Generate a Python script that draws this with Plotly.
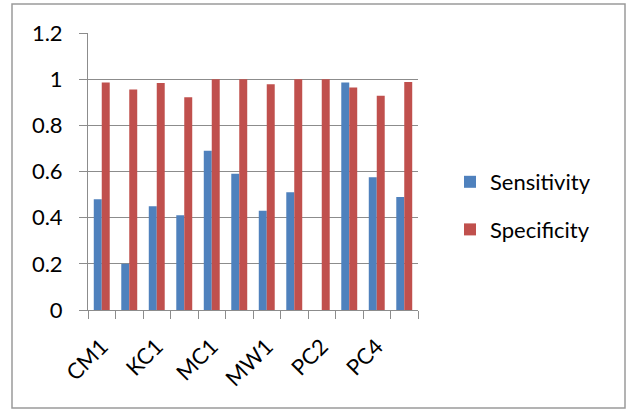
import plotly.graph_objects as go

# Datasets on the category axis
datasets = ["CM1", "JM1", "KC1", "KC3", "MC1", "MC2",
            "MW1", "PC1", "PC2", "PC3", "PC4", "PC5"]
# Only every other dataset name is printed under the axis
shown_labels = [d if i % 2 == 0 else "" for i, d in enumerate(datasets)]

sensitivity = [0.48, 0.20, 0.45, 0.41, 0.69, 0.59,
               0.43, 0.51, 0.0, 0.986, 0.575, 0.49]
specificity = [0.986, 0.955, 0.983, 0.922, 1.0, 1.0,
               0.978, 1.0, 1.0, 0.964, 0.928, 0.988]

y_ticks = [0, 0.2, 0.4, 0.6, 0.8, 1, 1.2]
y_tick_text = ["0", "0.2", "0.4", "0.6", "0.8", "1", "1.2"]

BLUE = "#4F81BD"
RED = "#C0504D"
GRID = "#8C8C8C"
FRAME = "#9A9A9A"
FONT = "Lato"
FS = 22

fig = go.Figure()
fig.add_trace(go.Bar(x=datasets, y=sensitivity, name="Sensitivity",
                     marker=dict(color=BLUE, line=dict(width=0)),
                     legendgroup="a"))
fig.add_trace(go.Bar(x=datasets, y=specificity, name="Specificity",
                     marker=dict(color=RED, line=dict(width=0)),
                     legendgroup="b"))

W, H = 630, 410
L, R, T, B = 88, 212, 33, 100
pw, ph = W - L - R, H - T - B

fig.update_layout(
    width=W, height=H,
    margin=dict(l=L, r=R, t=T, b=B),
    paper_bgcolor="white", plot_bgcolor="white",
    barmode="group", bargap=0.42, bargroupgap=0,
    font=dict(family=FONT, size=FS, color="black"),
    showlegend=True,
    legend=dict(x=(450 - L) / pw, xanchor="left",
                y=(H - B - 206) / ph, yanchor="middle",
                font=dict(family=FONT, size=FS),
                tracegroupgap=16, bgcolor="rgba(0,0,0,0)"),
)

fig.update_xaxes(
    type="category", categoryorder="array", categoryarray=datasets,
    tickmode="array", tickvals=datasets, ticktext=shown_labels,
    tickson="boundaries", ticks="outside", ticklen=8, tickwidth=1,
    tickcolor=GRID, tickangle=-45, ticklabelstandoff=14,
    showline=True, linecolor=GRID, linewidth=1,
    showgrid=False, zeroline=False,
    tickfont=dict(family=FONT, size=FS),
)
fig.update_yaxes(
    range=[0, 1.2], tickmode="array", tickvals=y_ticks, ticktext=y_tick_text,
    ticks="outside", ticklen=8, tickwidth=1, tickcolor=GRID,
    ticklabelstandoff=12,
    showline=True, linecolor=GRID, linewidth=1,
    showgrid=True, gridcolor=GRID, gridwidth=1, zeroline=False,
    tickfont=dict(family=FONT, size=FS),
)

# Chart frame around the whole figure
fig.add_shape(type="rect", xref="paper", yref="paper",
              x0=(12 - L) / pw, x1=(625 - L) / pw,
              y0=(H - B - 408) / ph, y1=(H - B - 4) / ph,
              line=dict(color=FRAME, width=1.5), fillcolor="rgba(0,0,0,0)",
              layer="below")

fig.write_html("out.html")
